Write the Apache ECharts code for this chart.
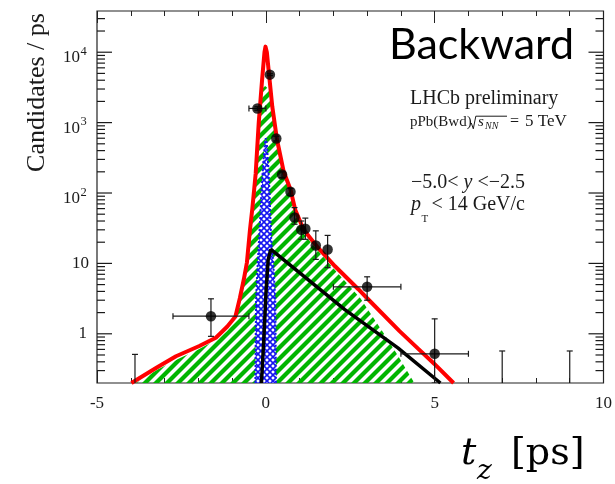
<!DOCTYPE html>
<html>
<head>
<meta charset="utf-8">
<script src="https://cdn.jsdelivr.net/npm/echarts@6.0.0/dist/echarts.min.js"></script>
<style>
  html, body { margin: 0; padding: 0; background: #fff; }
  #chart { width: 615px; height: 484px; }
</style>
</head>
<body>
<div id="chart"></div>
<script>
// ---- fit curves (t_z in ps, candidates / ps) ----
const redX = [-3.98, -3.24, -2.66, -1.97, -1.48, -1.14, -0.9, -0.77, -0.65, -0.56, -0.47, -0.4, -0.3, -0.21, -0.11, -0.04, -0.01, 0.03, 0.09, 0.19, 0.33, 0.53, 0.73, 0.87, 1.12, 1.51, 2.05, 2.74, 3.0, 3.96, 4.5, 5.0, 5.56];
const redY = [0.2, 0.33, 0.48, 0.67, 0.88, 1.27, 1.76, 3.2, 6, 10.3, 30, 60, 190, 1000, 4100, 10000, 12000, 10000, 5100, 1700, 575, 200, 112, 58, 30, 17.5, 9.1, 4.3, 3.2, 1.09, 0.62, 0.37, 0.2];

const greenX = [-3.85, -3.2, -2.6, -2.0, -1.5, -1.15, -0.92, -0.8, -0.68, -0.58, -0.5, -0.42, -0.32, -0.22, -0.12, -0.02, 0.08, 0.18, 0.32, 0.52, 0.72, 0.86, 1.1, 1.5, 2.0, 2.8, 3.5, 3.9, 4.4];
const greenY = [0.2, 0.31, 0.44, 0.6, 0.8, 1.1, 1.55, 2.6, 5, 9.5, 25, 50, 170, 900, 3000, 3300, 3000, 1500, 520, 185, 100, 52, 27, 16, 8.5, 3.2, 1.0, 0.5, 0.2];

const blackX = [-0.13, -0.06, 0.01, 0.07, 0.15, 2.34, 3.91, 5.17];
const blackY = [0.2, 0.83, 4.3, 11.4, 15.8, 2.2, 0.63, 0.2];

const blueX = [-0.31, -0.29, -0.24, -0.2, -0.16, -0.13, -0.08, -0.03, 0, 0.03, 0.07, 0.11, 0.13, 0.16, 0.22, 0.28, 0.3];
const blueY = [0.2, 3, 10, 22, 50, 100, 250, 500, 600, 500, 250, 100, 50, 22, 10, 3, 0.2];

// ---- data points with errors ----
const ptX   = [-1.625, -0.25, 0.12, 0.31, 0.48, 0.73, 0.85, 1.05, 1.17, 1.48, 1.83, 3.0, 5.0];
const ptY   = [1.78, 1590, 4800, 595, 183, 104, 45, 30, 31, 18, 15.8, 4.65, 0.52];
const ptXLo = [-2.75, -0.5, 0.12, 0.31, 0.48, 0.73, 0.85, 1.05, 1.17, 1.48, 1.83, 2.0, 4.0];
const ptXHi = [-0.5, 0.0, 0.12, 0.31, 0.48, 0.73, 0.85, 1.05, 1.17, 1.48, 1.83, 4.0, 6.0];
const ptYLo = [0.92, 1500, 4650, 550, 165, 92, 36, 22, 22, 11.4, 8.7, 3.0, 0.2];
const ptYHi = [3.14, 1680, 4950, 640, 200, 116, 62, 40, 44, 29, 25, 6.45, 1.63];

// empty bins: only an upper error bar
const emptyX  = [-3.875, 7, 9];
const emptyHi = [0.51, 0.57, 0.57];

const yDecades = [1, 10, 100, 1000, 10000];
const yMin = 0.2, yMax = 38500;

const serif = "'Liberation Serif', 'Times New Roman', serif";
const ink = '#1a1a1a';

function stripes() {
  const s = 11, c = document.createElement('canvas');
  c.width = c.height = s;
  const g = c.getContext('2d');
  g.strokeStyle = '#00b400';
  g.lineWidth = 4.2;
  for (const o of [-s, 0, s]) {
    g.beginPath(); g.moveTo(o - 3, s + 3); g.lineTo(o + s + 3, -3); g.stroke();
  }
  return c;
}

function crosses() {
  const s = 6, c = document.createElement('canvas');
  c.width = c.height = s;
  const g = c.getContext('2d');
  g.fillStyle = '#fff'; g.fillRect(0, 0, s, s);
  g.strokeStyle = '#1414f0';
  g.lineWidth = 1.6;
  g.beginPath(); g.moveTo(-1, -1); g.lineTo(s + 1, s + 1); g.moveTo(s + 1, -1); g.lineTo(-1, s + 1); g.stroke();
  return c;
}

// y tick marks (log minor ticks at 2..9 of each decade), both sides
const yTicks = [];
for (const d of [0.1].concat(yDecades)) {
  for (let m = 1; m <= 9; m++) {
    const v = +(d * m).toPrecision(3);
    if (v > yMin && v < yMax) yTicks.push([0, v, m === 1 ? 1 : 0]);
  }
}

const pair = (xs, ys) => xs.map((x, i) => [x, ys[i]]);

function seg(x1, y1, x2, y2) {
  return { type: 'line', shape: { x1, y1, x2, y2 }, style: { stroke: ink, lineWidth: 1.2 } };
}
function label(text, x, y, size, align) {
  return { type: 'text', x, y, style: { text, fontFamily: serif, fontSize: size, fill: ink, align, verticalAlign: 'middle' } };
}

const chart = echarts.init(document.getElementById('chart'));

chart.setOption({
  animation: false,
  backgroundColor: '#fff',
  grid: { left: 97, right: 8, top: 11, bottom: 101, show: true, borderColor: '#222', borderWidth: 1.2, backgroundColor: 'transparent' },
  xAxis: [
    {
      type: 'value', min: -5, max: 10, interval: 5, position: 'bottom',
      axisLine: { show: false },
      axisTick: { inside: true, length: 12, lineStyle: { color: '#222', width: 1 } },
      minorTick: { show: true, splitNumber: 5, length: 5, lineStyle: { color: '#222', width: 1 } },
      splitLine: { show: false },
      axisLabel: { margin: 12, fontFamily: serif, fontSize: 17, color: ink }
    },
    {
      type: 'value', min: -5, max: 10, interval: 5, position: 'top',
      axisLine: { show: false },
      axisTick: { inside: true, length: 12, lineStyle: { color: '#222', width: 1 } },
      minorTick: { show: true, splitNumber: 5, length: 5, lineStyle: { color: '#222', width: 1 } },
      splitLine: { show: false },
      axisLabel: { show: false }
    }
  ],
  yAxis: {
    type: 'log', logBase: 10, min: yMin, max: yMax,
    axisLine: { show: false },
    axisTick: { show: false },
    splitLine: { show: false },
    axisLabel: { show: false }
  },
  series: [
    {
      name: 'green', type: 'line', data: pair(greenX, greenY), showSymbol: false, clip: true,
      lineStyle: { width: 0 },
      areaStyle: { origin: 'start', opacity: 1, color: { image: stripes(), repeat: 'repeat' } },
      z: 1
    },
    {
      name: 'blue', type: 'line', data: pair(blueX, blueY), showSymbol: false, clip: true,
      lineStyle: { width: 2, color: '#1414f0', type: 'dotted' },
      areaStyle: { origin: 'start', opacity: 1, color: { image: crosses(), repeat: 'repeat' } },
      z: 2
    },
    {
      name: 'black', type: 'line', data: pair(blackX, blackY), showSymbol: false, clip: true,
      lineStyle: { width: 3.5, color: '#000' }, z: 3
    },
    {
      name: 'red', type: 'line', data: pair(redX, redY), showSymbol: false, clip: true,
      lineStyle: { width: 4, color: '#ff0000', join: 'round' }, z: 4
    },
    {
      name: 'errors', type: 'custom', clip: true, z: 5,
      data: ptX.map((x, i) => [x, ptY[i], ptXLo[i], ptXHi[i], ptYLo[i], ptYHi[i]]),
      encode: { x: 0, y: 1 },
      renderItem: (params, api) => {
        const x = api.value(0), y = api.value(1);
        const c = api.coord([x, y]);
        const lo = api.coord([x, api.value(4)])[1], hi = api.coord([x, api.value(5)])[1];
        const l = api.coord([api.value(2), y])[0], r = api.coord([api.value(3), y])[0];
        const cap = 3, kids = [];
        if (lo - hi > 1) {
          kids.push(seg(c[0], lo, c[0], hi), seg(c[0] - cap, hi, c[0] + cap, hi), seg(c[0] - cap, lo, c[0] + cap, lo));
        }
        if (r - l > 1) {
          kids.push(seg(l, c[1], r, c[1]), seg(l, c[1] - cap, l, c[1] + cap), seg(r, c[1] - cap, r, c[1] + cap));
        }
        return { type: 'group', children: kids };
      }
    },
    {
      name: 'empty', type: 'custom', clip: true, z: 5,
      data: emptyX.map((x, i) => [x, emptyHi[i]]),
      encode: { x: 0, y: 1 },
      renderItem: (params, api) => {
        const p = api.coord([api.value(0), api.value(1)]);
        const bottom = params.coordSys.y + params.coordSys.height;
        return { type: 'group', children: [seg(p[0], bottom, p[0], p[1]), seg(p[0] - 3, p[1], p[0] + 3, p[1])] };
      }
    },
    {
      name: 'points', type: 'scatter', data: pair(ptX, ptY), symbol: 'circle', symbolSize: 10.5,
      itemStyle: { color: '#000' }, z: 6
    },
    {
      name: 'yticks', type: 'custom', z: 7, silent: true,
      data: yTicks,
      encode: { x: 0, y: 1 },
      renderItem: (params, api) => {
        const y = api.coord([0, api.value(1)])[1];
        const cs = params.coordSys;
        const len = api.value(2) ? 15 : 8;
        return { type: 'group', children: [
          seg(cs.x, y, cs.x + len, y),
          seg(cs.x + cs.width - len, y, cs.x + cs.width, y)
        ] };
      }
    },
    {
      name: 'ylabels', type: 'custom', z: 7, silent: true,
      data: yDecades.map(v => [0, v]),
      encode: { x: 0, y: 1 },
      renderItem: (params, api) => {
        const v = api.value(1);
        const y = api.coord([0, v])[1];
        const x0 = params.coordSys.x;
        const e = Math.round(Math.log10(v));
        if (e === 0) return label('1', x0 - 10, y, 17, 'right');
        if (e === 1) return label('10', x0 - 8, y, 17, 'right');
        return { type: 'group', children: [
          label('10', x0 - 17, y + 5.5, 17, 'right'),
          label(String(e), x0 - 16.5, y - 0.5, 12.5, 'left')
        ] };
      }
    }
  ],
  graphic: [
    { type: 'text', x: 36.7, y: 92.5, rotation: Math.PI / 2,
      style: { text: 'Candidates / ps', fontFamily: serif, fontSize: 26, fill: ink, align: 'center', verticalAlign: 'middle' } },
    { type: 'text', x: 574, y: 45, z: 10,
      style: { text: 'Backward', fontFamily: 'Lato', fontSize: 43, fill: '#000', align: 'right', verticalAlign: 'middle' } },
    { type: 'text', x: 410, y: 99.2,
      style: { text: 'LHCb preliminary', fontFamily: serif, fontSize: 20, fill: ink, align: 'left', verticalAlign: 'middle' } },
    { type: 'text', x: 410, y: 121.9,
      style: { text: 'pPb(Bwd)', fontFamily: serif, fontSize: 15, fill: ink, align: 'left', verticalAlign: 'middle' } },
    { type: 'polyline', shape: { points: [[471.3, 123], [473.3, 128.8], [475.8, 116.2], [507, 116.2]] },
      style: { stroke: ink, lineWidth: 1, fill: null } },
    { type: 'text', x: 478, y: 121.7,
      style: { text: 's', fontFamily: serif, fontStyle: 'italic', fontSize: 15, fill: ink, align: 'left', verticalAlign: 'middle' } },
    { type: 'text', x: 485, y: 126,
      style: { text: 'NN', fontFamily: serif, fontStyle: 'italic', fontSize: 10, fill: ink, align: 'left', verticalAlign: 'middle' } },
    { type: 'text', x: 510, y: 121.6,
      style: { text: '=', fontFamily: serif, fontSize: 16, fill: ink, align: 'left', verticalAlign: 'middle' } },
    { type: 'text', x: 525, y: 121.2,
      style: { text: '5 TeV', fontFamily: serif, fontSize: 17, fill: ink, align: 'left', verticalAlign: 'middle' } },
    { type: 'text', x: 411, y: 183.2,
      style: { text: '{n|−5.0< }{i|y}{n| <−2.5}', align: 'left', verticalAlign: 'middle',
        rich: { n: { fontFamily: serif, fontSize: 20, fill: ink }, i: { fontFamily: serif, fontSize: 20, fontStyle: 'italic', fill: ink } } } },
    { type: 'text', x: 411, y: 204.9,
      style: { text: 'p', fontFamily: serif, fontStyle: 'italic', fontSize: 20, fill: ink, align: 'left', verticalAlign: 'middle' } },
    { type: 'text', x: 421.5, y: 219.5,
      style: { text: 'T', fontFamily: serif, fontSize: 11, fill: ink, align: 'left', verticalAlign: 'middle' } },
    { type: 'text', x: 431.5, y: 204.9,
      style: { text: '< 14 GeV/c', fontFamily: serif, fontSize: 20, fill: ink, align: 'left', verticalAlign: 'middle' } },
    { type: 'text', x: 461, y: 454,
      style: { text: 't', fontFamily: 'DejaVu Serif', fontStyle: 'italic', fontSize: 38, fill: '#000', align: 'left', verticalAlign: 'middle' } },
    { type: 'text', x: 477, y: 471.5,
      style: { text: 'z', fontFamily: 'DejaVu Serif', fontStyle: 'italic', fontSize: 28, fill: '#000', align: 'left', verticalAlign: 'middle' } },
    { type: 'text', x: 511, y: 454,
      style: { text: '[ps]', fontFamily: 'DejaVu Serif', fontSize: 38, fill: '#000', align: 'left', verticalAlign: 'middle' } }
  ]
});
</script>
</body>
</html>
